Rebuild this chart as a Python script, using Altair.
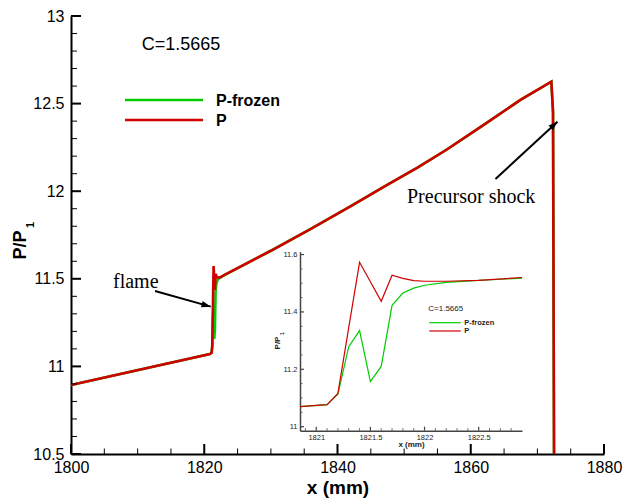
import altair as alt
import pandas as pd

# ---------------- data ----------------
x_mm = [1800.0, 1820.85, 1821.1, 1821.2, 1821.3, 1821.4, 1821.5, 1821.6, 1821.7,
        1821.8, 1821.9, 1822.0, 1822.2, 1822.5, 1822.9, 1830.0, 1836.0, 1842.0,
        1847.2, 1852.0, 1856.3, 1862.0, 1867.4, 1872.1, 1872.35, 1872.5]
p_reacting = [10.894, 11.070, 11.077, 11.116, 11.345, 11.573, 11.505, 11.437, 11.528,
              11.517, 11.509, 11.507, 11.507, 11.510, 11.520, 11.66, 11.785, 11.915,
              12.03, 12.135, 12.235, 12.38, 12.52, 12.625, 12.45, 10.5]
p_frozen = [10.894, 11.070, 11.077, 11.113, 11.279, 11.335, 11.157, 11.210, 11.423,
            11.466, 11.483, 11.493, 11.503, 11.510, 11.518, 11.66, 11.785, 11.915,
            12.03, 12.135, 12.235, 12.38, 12.52, 12.625, 12.45, 10.5]

x_major = [1800, 1820, 1840, 1860, 1880]
x_minor = [1805, 1810, 1815, 1825, 1830, 1835, 1845, 1850, 1855, 1865, 1870, 1875]
y_major = [10.5, 11.0, 11.5, 12.0, 12.5, 13.0]
y_minor = [10.6, 10.7, 10.8, 10.9, 11.1, 11.2, 11.3, 11.4, 11.6, 11.7, 11.8, 11.9,
           12.1, 12.2, 12.3, 12.4, 12.6, 12.7, 12.8, 12.9]

inset_x_major = [1821, 1821.5, 1822, 1822.5]
inset_x_minor = [1820.9, 1821.1, 1821.2, 1821.3, 1821.4, 1821.6, 1821.7, 1821.8, 1821.9,
                 1822.1, 1822.2, 1822.3, 1822.4, 1822.6, 1822.7, 1822.8]
inset_y_major = [11.0, 11.2, 11.4, 11.6]
inset_y_minor = [11.05, 11.1, 11.15, 11.25, 11.3, 11.35, 11.45, 11.5, 11.55]

arrow_x0 = [1812.61, 1863.71]
arrow_y0 = [11.43, 12.07]
arrow_x1 = [1820.97, 1873.02]
arrow_y1 = [11.341, 12.397]
arrow_angle = [105.6, 47.3]

GREEN = "#00cc00"
RED = "#d00000"
SANS = "Liberation Sans"
SERIF = "Liberation Serif"

W, H = 533, 438

main_df = pd.DataFrame({"x": x_mm, "P": p_reacting, "Pf": p_frozen})
inset_df = main_df[(main_df.x >= 1820.85) & (main_df.x <= 1822.9)]
ann_df = pd.DataFrame({"x0": arrow_x0, "y0": arrow_y0, "x1": arrow_x1,
                       "y1": arrow_y1, "angle": arrow_angle})

# ---------------- main scales / axes ----------------
xs = alt.Scale(domain=[1800, 1880], nice=False, zero=False)
ys = alt.Scale(domain=[10.5, 13], nice=False, zero=False)

main_xaxis = alt.Axis(values=x_major, format="d", ticks=False, tickSize=0, grid=False,
                      labelFontSize=16, labelFont=SANS, labelColor="black",
                      labelPadding=5, labelFlush=False, labelOverlap=False,
                      domainColor="black", domainWidth=2,
                      title="x (mm)", titleFont=SANS, titleFontSize=19,
                      titleFontWeight="bold", titleColor="black",
                      titleX=W / 2, titleY=39, titleBaseline="alphabetic")
main_yaxis = alt.Axis(values=y_major, format="~g", ticks=False, tickSize=0, grid=False,
                      labelFontSize=16, labelFont=SANS, labelColor="black",
                      labelPadding=7, labelFlush=False, labelOverlap=False,
                      domainColor="black", domainWidth=2, title=None)


def MX(field):
    return alt.X(field, type="quantitative", scale=xs, axis=main_xaxis)


def MY(field):
    return alt.Y(field, type="quantitative", scale=ys, axis=main_yaxis)


def label(txt, x, y, **kw):
    return alt.Chart(pd.DataFrame({"t": [txt]})).mark_text(**kw).encode(
        text="t:N", x=alt.value(x), y=alt.value(y))


def hrule(x0, x1, y, color, width):
    return alt.Chart(pd.DataFrame({"a": [0]})).mark_rule(color=color, strokeWidth=width).encode(
        x=alt.value(x0), x2=alt.value(x1), y=alt.value(y))


main_green = alt.Chart(main_df).mark_line(color=GREEN, strokeWidth=2.6).encode(
    x=MX("x"), y=MY("Pf"))
main_red = alt.Chart(main_df).mark_line(color=RED, strokeWidth=2.6).encode(
    x=MX("x"), y=MY("P"))

xmaj = alt.Chart(pd.DataFrame({"v": x_major})).mark_rule(color="black", strokeWidth=2).encode(
    x=MX("v"), y=alt.value(H), y2=alt.value(H - 10))
xmin = alt.Chart(pd.DataFrame({"v": x_minor})).mark_rule(color="black", strokeWidth=1).encode(
    x=MX("v"), y=alt.value(H), y2=alt.value(H - 5.5))
ymaj = alt.Chart(pd.DataFrame({"v": y_major})).mark_rule(color="black", strokeWidth=2).encode(
    y=MY("v"), x=alt.value(0), x2=alt.value(10))
ymin = alt.Chart(pd.DataFrame({"v": y_minor})).mark_rule(color="black", strokeWidth=1).encode(
    y=MY("v"), x=alt.value(0), x2=alt.value(6))

arrow_lines = alt.Chart(ann_df).mark_rule(color="black", strokeWidth=2).encode(
    x=MX("x0"), y=MY("y0"), x2="x1:Q", y2="y1:Q")
arrow_heads = alt.Chart(ann_df).mark_point(
    shape="M0,0L-0.8,2.3L0.8,2.3Z", filled=True, size=64, color="black",
    opacity=1, strokeWidth=0).encode(
    x=MX("x1"), y=MY("y1"), angle=alt.Angle("angle:Q", scale=None))

main_texts = [
    label("C=1.5665", 70.7, 29, font=SANS, fontSize=18, align="left", baseline="middle", color="black"),
    label("P-frozen", 145, 85, font=SANS, fontSize=16, fontWeight="bold", align="left", baseline="middle", color="black"),
    label("P", 145, 105, font=SANS, fontSize=16, fontWeight="bold", align="left", baseline="middle", color="black"),
    label("flame", 42, 272, font=SERIF, fontSize=20, align="left", baseline="alphabetic", color="black"),
    label("Precursor shock", 336, 187, font=SERIF, fontSize=20, align="left", baseline="alphabetic", color="black"),
    label("P/P", -50, 229, font=SANS, fontSize=18, fontWeight="bold", angle=270, align="center", baseline="middle", color="black"),
    label("1", -40, 209, font=SANS, fontSize=11, fontWeight="bold", angle=270, align="center", baseline="middle", color="black"),
]
main_legend = [hrule(54, 132, 84, GREEN, 2.7), hrule(54, 132, 104, RED, 2.7)]

main = alt.layer(main_green, main_red, xmaj, xmin, ymaj, ymin, arrow_lines, arrow_heads,
                 *main_legend, *main_texts)

# ---------------- inset ----------------
IX0, IX1 = 229, 451          # inset x range (px in plot)
IYB, IYT = 414.7, 235.7      # inset y range (px in plot)
ixs = alt.Scale(domain=[1820.85, 1822.9], range=[IX0, IX1], nice=False, zero=False)
iys = alt.Scale(domain=[10.986, 11.61], range=[IYB, IYT], nice=False, zero=False)

inset_xaxis = alt.Axis(orient="bottom", offset=-(H - IYB), values=inset_x_major, format=".1~f",
                       ticks=False, tickSize=0, grid=False, labelFontSize=7.5, labelFont=SANS,
                       labelColor="#222222", labelPadding=2.5, labelFlush=False,
                       domainColor="#444444", domainWidth=1.5,
                       title="x (mm)", titleFont=SANS, titleFontSize=8, titleFontWeight="bold",
                       titleColor="#222222", titleX=(IX0 + IX1) / 2, titleY=14,
                       titleBaseline="middle")
inset_yaxis = alt.Axis(orient="left", offset=-IX0, values=inset_y_major, format=".1~f",
                       ticks=False, tickSize=0, grid=False, labelFontSize=7.5, labelFont=SANS,
                       labelColor="#222222", labelPadding=3, labelFlush=False,
                       domainColor="#444444", domainWidth=1.5, title=None)


def IX(field):
    return alt.X(field, type="quantitative", scale=ixs, axis=inset_xaxis)


def IY(field):
    return alt.Y(field, type="quantitative", scale=iys, axis=inset_yaxis)


inset_green = alt.Chart(inset_df).mark_line(color=GREEN, strokeWidth=1.2).encode(
    x=IX("x"), y=IY("Pf"))
inset_red = alt.Chart(inset_df).mark_line(color=RED, strokeWidth=1.2).encode(
    x=IX("x"), y=IY("P"))
ixmaj = alt.Chart(pd.DataFrame({"v": inset_x_major})).mark_rule(color="#444444", strokeWidth=1.2).encode(
    x=IX("v"), y=alt.value(IYB), y2=alt.value(IYB - 4))
ixmin = alt.Chart(pd.DataFrame({"v": inset_x_minor})).mark_rule(color="#444444", strokeWidth=0.8).encode(
    x=IX("v"), y=alt.value(IYB), y2=alt.value(IYB - 2.5))
iymaj = alt.Chart(pd.DataFrame({"v": inset_y_major})).mark_rule(color="#444444", strokeWidth=1.2).encode(
    y=IY("v"), x=alt.value(IX0), x2=alt.value(IX0 + 4))
iymin = alt.Chart(pd.DataFrame({"v": inset_y_minor})).mark_rule(color="#444444", strokeWidth=0.8).encode(
    y=IY("v"), x=alt.value(IX0), x2=alt.value(IX0 + 2.5))

inset_texts = [
    label("C=1.5665", 357.3, 293.3, font=SANS, fontSize=8, align="left", baseline="middle", color="#222222"),
    label("P-frozen", 393.3, 307, font=SANS, fontSize=7.5, fontWeight="bold", align="left", baseline="middle", color="#222222"),
    label("P", 393.3, 315.3, font=SANS, fontSize=7.5, fontWeight="bold", align="left", baseline="middle", color="#222222"),
    label("P/P", 206.5, 327, font=SANS, fontSize=8, fontWeight="bold", angle=270, align="center", baseline="middle", color="#222222"),
    label("1", 210.5, 317.5, font=SANS, fontSize=5, fontWeight="bold", angle=270, align="center", baseline="middle", color="#222222"),
]
inset_legend = [hrule(358.3, 389.7, 306.7, GREEN, 1.2), hrule(358.3, 389.7, 315, RED, 1.2)]

inset = alt.layer(inset_green, inset_red, ixmaj, ixmin, iymaj, iymin, *inset_legend, *inset_texts)

chart = alt.layer(main, inset).resolve_scale(
    x="independent", y="independent"
).properties(
    width=W, height=H,
    autosize=alt.AutoSizeParams(type="none"),
    padding={"left": 71, "top": 16, "right": 20, "bottom": 45},
    background="white",
).configure_view(stroke=None)

chart.save("out.html", embed_options={"renderer": "svg", "actions": False})
